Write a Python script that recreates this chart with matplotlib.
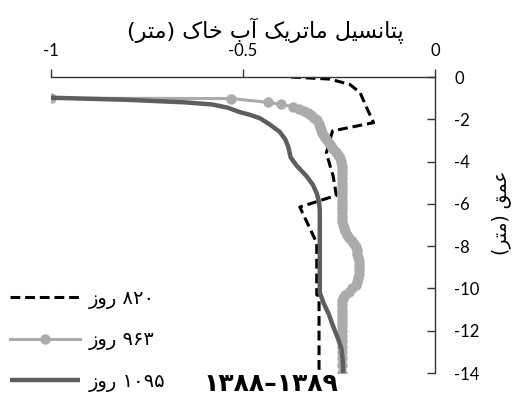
import re
import matplotlib
matplotlib.use("Agg")
import matplotlib.pyplot as plt

plt.rcParams['font.family'] = ['Lato', 'DejaVu Sans']
plt.rcParams['axes.unicode_minus'] = False

# matric potential (m) and depth (m)
pot_820 = [-0.375, -0.274, -0.222, -0.195, -0.178, -0.160, -0.267, -0.283, -0.265,
           -0.257, -0.352, -0.308, -0.308, -0.302, -0.302]
dep_820 = [0.0, -0.1, -0.35, -0.74, -1.45, -2.16, -2.55, -3.6, -4.7,
           -5.6, -6.15, -7.85, -10.3, -10.35, -14.0]

pot_963 = [-1.0, -0.53, -0.434, -0.40, -0.37, -0.355, -0.342, -0.332, -0.322, -0.314,
           -0.308, -0.303, -0.300, -0.297, -0.293, -0.288, -0.283, -0.277, -0.271, -0.265,
           -0.259, -0.253, -0.248, -0.245, -0.243, -0.242, -0.242, -0.242, -0.242, -0.242,
           -0.242, -0.242, -0.242, -0.242, -0.242, -0.242, -0.242, -0.241, -0.240, -0.238,
           -0.234, -0.229, -0.223, -0.217, -0.212, -0.207, -0.204, -0.202, -0.200, -0.199,
           -0.199, -0.199, -0.199, -0.200, -0.202, -0.207, -0.215, -0.225, -0.234, -0.240,
           -0.242, -0.243, -0.243, -0.243, -0.243, -0.243, -0.243, -0.242, -0.242, -0.242,
           -0.242, -0.242, -0.242, -0.242, -0.241]
dep_963 = [-1.0, -1.02, -1.2, -1.3, -1.4, -1.5, -1.6, -1.7, -1.8, -1.92,
           -2.05, -2.2, -2.35, -2.5, -2.65, -2.8, -2.95, -3.1, -3.25, -3.4,
           -3.55, -3.7, -3.85, -4.0, -4.2, -4.4, -4.6, -4.8, -5.0, -5.2,
           -5.4, -5.6, -5.8, -6.0, -6.2, -6.4, -6.6, -6.8, -7.0, -7.15,
           -7.3, -7.45, -7.6, -7.75, -7.9, -8.05, -8.2, -8.35, -8.5, -8.7,
           -8.9, -9.1, -9.3, -9.5, -9.7, -9.85, -10.0, -10.15, -10.3, -10.45,
           -10.6, -10.8, -11.0, -11.2, -11.4, -11.6, -11.8, -12.0, -12.25, -12.5,
           -12.75, -13.0, -13.3, -13.6, -14.0]

pot_1095 = [-1.0, -0.8, -0.65, -0.58, -0.54, -0.51, -0.48, -0.456, -0.43, -0.404,
            -0.39, -0.382, -0.376, -0.36, -0.334, -0.318, -0.308, -0.302, -0.3, -0.3,
            -0.3, -0.29, -0.277, -0.265, -0.252, -0.243, -0.24, -0.239]
dep_1095 = [-0.98, -1.08, -1.2, -1.3, -1.45, -1.65, -1.8, -1.95, -2.25, -2.6,
            -2.95, -3.3, -3.8, -4.2, -4.7, -5.1, -5.5, -5.9, -6.3, -8.0,
            -10.2, -10.7, -11.2, -11.8, -12.4, -12.9, -13.5, -14.0]

x_ticks = [-1, -0.5, 0]
y_ticks = [0, -2, -4, -6, -8, -10, -12, -14]

FORMS = {
    'ا': ('\uFE8D', '\uFE8E', None, None),
    'آ': ('\uFE81', '\uFE82', None, None),
    'ب': ('\uFE8F', '\uFE90', '\uFE91', '\uFE92'),
    'پ': ('\uFB56', '\uFB57', '\uFB58', '\uFB59'),
    'ت': ('\uFE95', '\uFE96', '\uFE97', '\uFE98'),
    'خ': ('\uFEA5', '\uFEA6', '\uFEA7', '\uFEA8'),
    'ر': ('\uFEAD', '\uFEAE', None, None),
    'ز': ('\uFEAF', '\uFEB0', None, None),
    'س': ('\uFEB1', '\uFEB2', '\uFEB3', '\uFEB4'),
    'ع': ('\uFEC9', '\uFECA', '\uFECB', '\uFECC'),
    'ق': ('\uFED5', '\uFED6', '\uFED7', '\uFED8'),
    'ک': ('\uFB8E', '\uFB8F', '\uFB90', '\uFB91'),
    'ل': ('\uFEDD', '\uFEDE', '\uFEDF', '\uFEE0'),
    'م': ('\uFEE1', '\uFEE2', '\uFEE3', '\uFEE4'),
    'ن': ('\uFEE5', '\uFEE6', '\uFEE7', '\uFEE8'),
    'و': ('\uFEED', '\uFEEE', None, None),
    'ی': ('\uFBFC', '\uFBFD', '\uFBFE', '\uFBFF'),
}


def fa(s):
    # no bidi/shaping in matplotlib: pick presentation forms, then visual order
    out = []
    for i, c in enumerate(s):
        if c not in FORMS:
            out.append(c)
            continue
        iso, fin, ini, med = FORMS[c]
        prev = s[i - 1] if i > 0 else ''
        nxt = s[i + 1] if i + 1 < len(s) else ''
        jp = prev in FORMS and FORMS[prev][2] is not None
        jn = nxt in FORMS and ini is not None
        out.append(med if jp and jn else fin if jp else ini if jn else iso)
    toks = re.findall(r'[0-9\u06F0-\u06F9]+|[^0-9\u06F0-\u06F9]', ''.join(out))
    mirror = {'(': ')', ')': '('}
    return ''.join(mirror.get(t, t) for t in toks[::-1])


fig = plt.figure(figsize=(5.16, 3.98), dpi=100)
ax = fig.add_axes([51 / 516, 1 - 373 / 398, 384 / 516, 296 / 398])

gray = '#ABABAB'
dark = '#5E5E5E'
ax.plot(pot_820, dep_820, color='black', lw=2.2, dashes=(3.2, 1.6),
        label=fa('۸۲۰ روز'))
ax.plot(pot_963, dep_963, color=gray, lw=2.2, marker='o', ms=6.5, mec=gray,
        label=fa('۹۶۳ روز'))
ax.plot(pot_1095, dep_1095, color=dark, lw=3.2, solid_capstyle='butt',
        label=fa('۱۰۹۵ روز'))

ax.set_xlim(-1, 0)
ax.set_ylim(-14, 0)
ax.set_xticks(x_ticks)
ax.set_xticklabels(['-1', '-0.5', '0'])
ax.set_yticks(y_ticks)
ax.set_yticklabels([str(v) for v in y_ticks])

ax.spines['left'].set_visible(False)
ax.spines['bottom'].set_visible(False)
for sp in ('top', 'right'):
    ax.spines[sp].set_color('#333333')
    ax.spines[sp].set_linewidth(1.0)
ax.xaxis.tick_top()
ax.yaxis.tick_right()
ax.tick_params(axis='x', direction='out', length=6, width=1, pad=7,
               labelsize=12, colors='#333333', labelcolor='black')
ax.tick_params(axis='y', direction='in', length=6, width=1, pad=14,
               labelsize=12, colors='#333333', labelcolor='black')
for lab in ax.get_yticklabels():
    lab.set_horizontalalignment('left')

fig.text(265 / 516, 1 - 31 / 398, fa('پتانسیل ماتریک آب خاک (متر)'),
         fontsize=16, family='DejaVu Sans', ha='center', va='center')
fig.text(501 / 516, 1 - 213 / 398, fa('عمق (متر)'), rotation=90,
         fontsize=13.5, family='DejaVu Sans', ha='center', va='center')
fig.text(271 / 516, 1 - 384 / 398, '۱۳۸۸–۱۳۸۹', fontsize=18,
         family='DejaVu Sans', weight='bold', ha='center', va='center')

leg = ax.legend(loc='upper left', bbox_to_anchor=(10 / 516, 1 - 289 / 398),
                bbox_transform=fig.transFigure, frameon=False, borderpad=0,
                borderaxespad=0, handlelength=3.6, handletextpad=0.45,
                labelspacing=1.1, numpoints=1,
                prop={'family': 'DejaVu Sans', 'size': 14})

fig.savefig('out.png', dpi=100)
